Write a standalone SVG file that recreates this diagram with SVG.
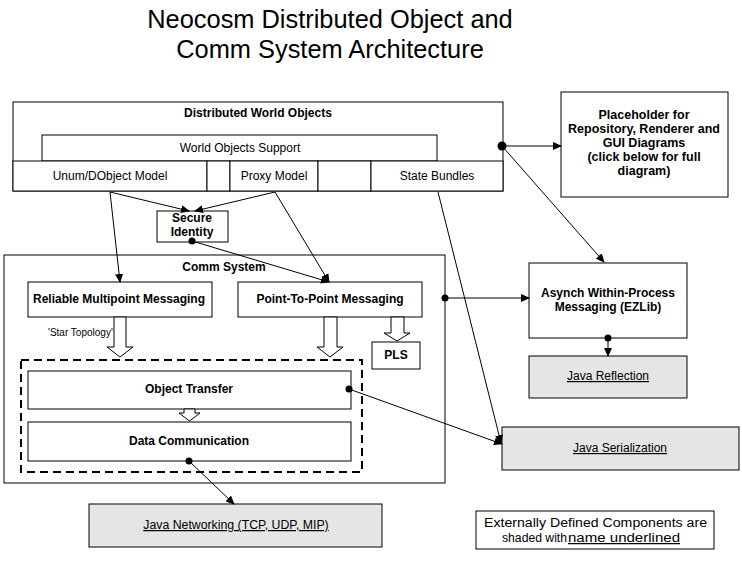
<svg xmlns="http://www.w3.org/2000/svg" width="742" height="562" viewBox="0 0 742 562">
<style>
text{font-family:"Liberation Sans",Arial,sans-serif;fill:#000}
.b{font-weight:bold;font-size:12px;text-anchor:middle}
.r{font-size:12px;text-anchor:middle}
.u{font-size:12px;text-anchor:middle;text-decoration:underline}
.t{font-size:25.4px;text-anchor:middle}
.box{fill:#fff;stroke:#000;stroke-width:1}
.ext{fill:#e5e5e5;stroke:#000;stroke-width:1}
.ln{fill:none;stroke:#000;stroke-width:1}
.blk{fill:#fff;stroke:#000;stroke-width:1}
</style>
<defs>
<marker id="ah" markerWidth="9" markerHeight="8" refX="8" refY="4" orient="auto" markerUnits="userSpaceOnUse">
<path d="M0,0 L9,4 L0,8 z" fill="#000"/>
</marker>
</defs>
<rect width="742" height="562" fill="#fff"/>
<g id="title">
<text class="t" x="330" y="28">Neocosm Distributed Object and</text>
<text class="t" x="330" y="58">Comm System Architecture</text>
</g>
<g id="dwo">
<rect class="box" x="13" y="102" width="490" height="89"/>
<text class="b" x="258" y="117">Distributed World Objects</text>
</g>
<g id="wos">
<rect class="box" x="42" y="135" width="395" height="26"/>
<text class="r" x="240" y="152">World Objects Support</text>
</g>
<g id="cells">
<rect class="box" x="13" y="161" width="194" height="30"/>
<rect class="box" x="207" y="161" width="23" height="30"/>
<rect class="box" x="230" y="161" width="88" height="30"/>
<rect class="box" x="318" y="161" width="53" height="30"/>
<rect class="box" x="371" y="161" width="132" height="30"/>
<text class="r" x="110" y="180">Unum/DObject Model</text>
<text class="r" x="274" y="180">Proxy Model</text>
<text class="r" x="437" y="180">State Bundles</text>
</g>
<g id="placeholder">
<rect class="box" x="561" y="92" width="167" height="105"/>
<text class="b" x="644" y="119" style="font-size:12.5px">Placeholder for</text>
<text class="b" x="644" y="133" style="font-size:12.5px">Repository, Renderer and</text>
<text class="b" x="644" y="147" style="font-size:12.5px">GUI Diagrams</text>
<text class="b" x="644" y="161" style="font-size:12.5px">(click below for full</text>
<text class="b" x="644" y="175" style="font-size:12.5px">diagram)</text>
</g>
<g id="secure">
<rect class="box" x="157" y="211" width="71" height="31"/>
<text class="b" x="192" y="222">Secure</text>
<text class="b" x="192" y="236">Identity</text>
</g>
<g id="comm">
<rect class="box" x="4" y="255" width="441" height="228"/>
<text class="b" x="224" y="271">Comm System</text>
</g>
<g id="reliable">
<rect class="box" x="28" y="282" width="184" height="35"/>
<text class="b" x="119" y="303">Reliable Multipoint Messaging</text>
</g>
<g id="p2p">
<rect class="box" x="238" y="282" width="184" height="35"/>
<text class="b" x="330" y="303">Point-To-Point Messaging</text>
</g>
<g id="pls">
<rect class="box" x="372" y="342" width="48" height="27"/>
<text class="b" x="396" y="359">PLS</text>
</g>
<g id="transport">
<rect x="21" y="360" width="341" height="112" fill="none" stroke="#000" stroke-width="2" stroke-dasharray="8,5"/>
</g>
<g id="objtransfer">
<rect class="box" x="28" y="371" width="323" height="38"/>
<text class="b" x="189" y="393">Object Transfer</text>
</g>
<g id="datacomm">
<rect class="box" x="28" y="422" width="323" height="39"/>
<text class="b" x="189" y="445">Data Communication</text>
</g>
<g id="asynch">
<rect class="box" x="529" y="263" width="158" height="75"/>
<text class="b" x="608" y="297">Asynch Within-Process</text>
<text class="b" x="608" y="311">Messaging (EZLib)</text>
</g>
<g id="reflection">
<rect class="ext" x="529" y="356" width="158" height="42"/>
<text class="u" x="608" y="380">Java Reflection</text>
</g>
<g id="serialization">
<rect class="ext" x="502" y="427" width="237" height="43"/>
<text class="u" x="620" y="452">Java Serialization</text>
</g>
<g id="networking">
<rect class="ext" x="89" y="504" width="293" height="43"/>
<text class="u" x="236" y="529" style="font-size:12.3px">Java Networking (TCP, UDP, MIP)</text>
</g>
<g id="legend">
<rect class="box" x="476" y="511" width="238" height="38"/>
<text x="484" y="527" style="font-size:12.5px" textLength="223" lengthAdjust="spacingAndGlyphs">Externally Defined Components are</text>
<text x="502" y="542" style="font-size:12.5px" textLength="65" lengthAdjust="spacingAndGlyphs">shaded with</text>
<text x="568" y="542" style="font-size:12.5px;text-decoration:underline" textLength="112" lengthAdjust="spacingAndGlyphs">name underlined</text>
</g>
<g id="connectors">
<text x="48" y="336" style="font-size:10px">'Star Topology'</text>
<polygon class="blk" points="114,317 114,347 107,347 120,357 133,347 126,347 126,317"/>
<polygon class="blk" points="324,317 324,347 317,347 330,357 343,347 337,347 337,317"/>
<polygon class="blk" points="391,317 391,333 384,333 397,341 410,333 404,333 404,317"/>
<polygon class="blk" points="184,409 184,413 179,413 189.5,421 200,413 195,413 195,409"/>
<line class="ln" x1="502" y1="146" x2="561" y2="146" marker-end="url(#ah)"/>
<line class="ln" x1="502" y1="146" x2="604" y2="262" marker-end="url(#ah)"/>
<circle cx="502" cy="146" r="4.5" fill="#000"/>
<line class="ln" x1="110" y1="192" x2="189" y2="211" marker-end="url(#ah)"/>
<line class="ln" x1="275" y1="192" x2="195" y2="211" marker-end="url(#ah)"/>
<line class="ln" x1="110" y1="192" x2="120" y2="282" marker-end="url(#ah)"/>
<line class="ln" x1="275" y1="192" x2="329" y2="282" marker-end="url(#ah)"/>
<line class="ln" x1="192" y1="241" x2="329" y2="282" marker-end="url(#ah)"/>
<circle cx="192" cy="241" r="3.5" fill="#000"/>
<line class="ln" x1="445" y1="298" x2="529" y2="298" marker-end="url(#ah)"/>
<circle cx="445" cy="298" r="3.5" fill="#000"/>
<line class="ln" x1="608" y1="338" x2="608" y2="356" marker-end="url(#ah)"/>
<circle cx="608" cy="338" r="3.5" fill="#000"/>
<line class="ln" x1="349" y1="389" x2="502" y2="444" marker-end="url(#ah)"/>
<circle cx="349" cy="389" r="3.5" fill="#000"/>
<line class="ln" x1="438" y1="192" x2="501" y2="443" marker-end="url(#ah)"/>
<line class="ln" x1="189" y1="461" x2="234" y2="504" marker-end="url(#ah)"/>
<circle cx="189" cy="461" r="3.5" fill="#000"/>
</g>
</svg>
